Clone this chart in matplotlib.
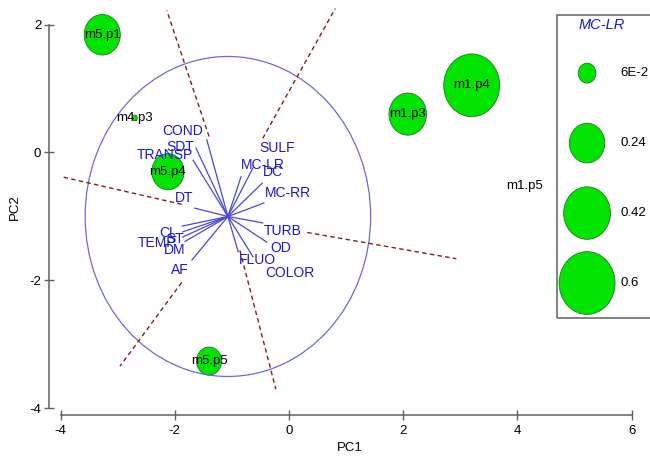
import numpy as np
import matplotlib
matplotlib.use("Agg")
import matplotlib.pyplot as plt
from matplotlib.patches import Ellipse, Circle, Rectangle

plt.rcParams['font.family'] = ['Liberation Sans', 'DejaVu Sans']
plt.rcParams['axes.unicode_minus'] = False

# Site scores on the first two principal components, with MC-LR concentration
sites = ["m5.p1", "m4.p3", "m5.p4", "m1.p3", "m1.p4", "m1.p5", "m5.p5"]
site_pc1 = [-3.27, -2.70, -2.12, 2.08, 3.20, 4.13, -1.40]
site_pc2 = [1.84, 0.54, -0.30, 0.60, 1.05, -0.52, -3.26]
mclr = [0.25, 0.005, 0.20, 0.27, 0.60, 0.0, 0.12]

# Bubble legend for MC-LR
legend_values = [0.06, 0.24, 0.42, 0.6]
legend_labels = ["6E-2", "0.24", "0.42", "0.6"]

# Correlation circle (centre and radius) and variable arrows
circle_center = (-1.07, -1.0)
circle_radius = 2.5
variables = ["COND", "SDT", "TRANSP", "DT", "CL", "ST", "TEMP", "DM", "AF",
             "SULF", "MC-LR", "DC", "MC-RR", "TURB", "OD", "FLUO", "COLOR"]
var_tip_x = [-1.44, -1.63, -1.68, -1.65, -1.87, -1.86, -1.86, -1.82, -1.70,
             -0.63, -0.84, -0.47, -0.44, -0.46, -0.39, -0.89, -0.63]
var_tip_y = [0.20, 0.07, -0.12, -0.87, -1.15, -1.24, -1.32, -1.39, -1.68,
             -0.24, -0.38, -0.48, -0.79, -1.10, -1.40, -1.55, -1.63]
var_lab_x = [-1.86, -1.91, -2.17, -1.84, -2.12, -2.00, -2.31, -2.00, -1.91,
             -0.21, -0.46, -0.28, -0.02, -0.11, -0.14, -0.56, 0.02]
var_lab_y = [0.34, 0.09, -0.04, -0.71, -1.26, -1.35, -1.41, -1.52, -1.84,
             0.07, -0.20, -0.30, -0.63, -1.23, -1.49, -1.68, -1.88]

# Dashed separator rays (start and end points)
ray_x0 = [-1.40, -0.46, -1.88, 0.32, -1.88, -0.86]
ray_y0 = [0.25, 0.22, -0.81, -1.25, -2.03, -1.53]
ray_x1 = [-2.14, 0.81, -4.00, 2.93, -2.96, -0.23]
ray_y1 = [2.22, 2.25, -0.375, -1.66, -3.34, -3.70]

x_ticks = [-4, -2, 0, 2, 4, 6]
y_ticks = [-4, -2, 0, 2]

GREEN = '#00E400'
GREEN_EDGE = '#1d7a1d'
BLUE = '#1818D8'
AXIS = '#606060'

# bubble diameter (data units) for the largest legend value
D_MAX = 0.98
V_MAX = max(legend_values)


def bubble_diameter(v):
    return D_MAX * np.sqrt(v / V_MAX)


fig = plt.figure(figsize=(6.5, 4.59), dpi=100)
ax = fig.add_axes([49 / 650, 44 / 459, 601 / 650, 415 / 459])
ax.set_xlim(-4.203, 6.322)
ax.set_ylim(-4.102, 2.383)

# axes styling: detached spines with crossing ticks
for s in ['top', 'right']:
    ax.spines[s].set_visible(False)
for s in ['left', 'bottom']:
    ax.spines[s].set_color(AXIS)
    ax.spines[s].set_linewidth(1.1)
ax.spines['left'].set_bounds(-4, 2)
ax.spines['bottom'].set_bounds(-4, 6)
ax.set_xticks(x_ticks)
ax.set_yticks(y_ticks)
ax.tick_params(axis='both', direction='inout', length=7, width=1.0,
               color=AXIS, labelsize=9.5, labelcolor='black')
ax.tick_params(axis='y', pad=2)
ax.tick_params(axis='x', pad=4)
ax.set_xlabel("PC1", fontsize=9.5, labelpad=3)
ax.set_ylabel("PC2", fontsize=9.5, labelpad=6)

# site bubbles
for name, x, y, v in zip(sites, site_pc1, site_pc2, mclr):
    if v > 0:
        d = bubble_diameter(v)
        ax.add_patch(Ellipse((x, y), d, d, facecolor=GREEN,
                             edgecolor=GREEN_EDGE, linewidth=0.6, zorder=2))
    ax.text(x, y, name, ha='center', va='center', fontsize=9.5,
            color='black', zorder=6)

# correlation circle
ax.add_patch(Circle(circle_center, circle_radius, fill=False,
                    edgecolor='#6a6ae0', linewidth=0.9, zorder=3))

# dashed rays
for x0, y0, x1, y1 in zip(ray_x0, ray_y0, ray_x1, ray_y1):
    ax.plot([x0, x1], [y0, y1], color='#8b1a1a', linestyle=(0, (3.2, 2.4)),
            linewidth=1.0, zorder=3)

# variable arrows and labels
cx, cy = circle_center
for name, tx, ty, lx, ly in zip(variables, var_tip_x, var_tip_y,
                                var_lab_x, var_lab_y):
    ax.plot([cx, tx], [cy, ty], color='#4848e0', linewidth=0.9, zorder=4)
    ax.text(lx, ly, name, ha='center', va='center', fontsize=10,
            color=BLUE, zorder=7)

# bubble legend box
box_left, box_top, box_bottom = 4.69, 2.15, -2.59
ax.add_patch(Rectangle((box_left, box_bottom), 3.0, box_top - box_bottom,
                       fill=False, edgecolor=AXIS, linewidth=1.1,
                       clip_on=False, zorder=5))
ax.text(5.48, 1.99, "MC-LR", ha='center', va='center', fontsize=10.5,
        style='italic', color=BLUE, zorder=7)
leg_x = 5.22
leg_y = np.linspace(1.24, -2.04, len(legend_values))
for v, lab, ly in zip(legend_values, legend_labels, leg_y):
    d = bubble_diameter(v)
    ax.add_patch(Ellipse((leg_x, ly), d, d, facecolor=GREEN,
                         edgecolor=GREEN_EDGE, linewidth=0.6, zorder=6))
    ax.text(5.80, ly, lab, ha='left', va='center', fontsize=9.5,
            color='black', zorder=7)

fig.savefig("out.png", dpi=100)
